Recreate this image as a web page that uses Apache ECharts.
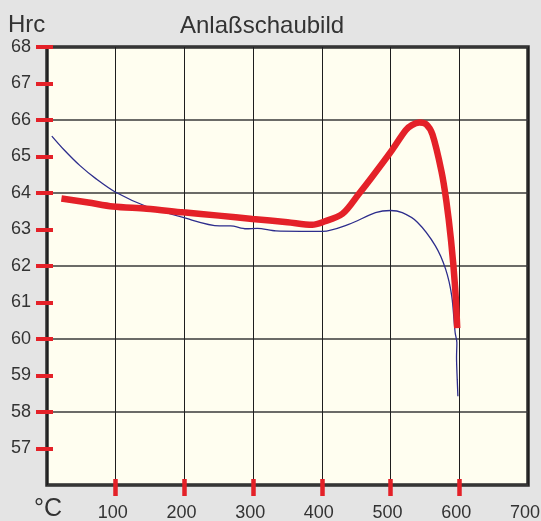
<!DOCTYPE html>
<html>
<head>
<meta charset="utf-8">
<script src="https://cdn.jsdelivr.net/npm/echarts@6/dist/echarts.min.js"></script>
<style>
  html, body { margin: 0; padding: 0; background: #e4e4e4; }
  #chart { width: 541px; height: 521px; }
</style>
</head>
<body>
<div id="chart"></div>
<script>
// Tempering diagram: hardness (HRC) vs. tempering temperature (°C)
const titleText = 'Anlaßschaubild';
const yUnit = 'Hrc';
const xUnit = '°C';

const xTickValues = [100, 200, 300, 400, 500, 600];
const xLabelValues = [100, 200, 300, 400, 500, 600, 700];
const yTickValues = [57, 58, 59, 60, 61, 62, 63, 64, 65, 66, 67, 68];

// Thick red curve: [temperature, hardness]
const redCurve = [
  [21, 63.85], [60, 63.74], [96, 63.63], [145, 63.57], [198, 63.47],
  [250, 63.38], [299, 63.29], [350, 63.2], [386, 63.13], [401, 63.2],
  [430, 63.43], [454, 63.98], [473, 64.44], [500, 65.12], [522, 65.72],
  [531, 65.86], [542, 65.93], [552, 65.88], [561, 65.6], [574, 64.6],
  [581, 63.8], [588, 62.7], [594, 61.4], [597, 60.3]
];

// Thin blue curve: [temperature, hardness]
const blueCurve = [
  [7, 65.56], [24, 65.2], [48, 64.75], [72, 64.38], [100, 64.02],
  [145, 63.63], [198, 63.33], [251, 63.1], [267, 63.1], [290, 63.02],
  [306, 63.03], [333, 62.96], [370, 62.95], [401, 62.95], [439, 63.14],
  [478, 63.46], [500, 63.52], [517, 63.46], [539, 63.2], [565, 62.56],
  [580, 61.92], [589, 61.18], [594, 60.17], [596.5, 59.9], [596, 59.5],
  [597, 58.9], [598, 58.43]
];

const chart = echarts.init(document.getElementById('chart'), null, { renderer: 'canvas' });
const font = 'Liberation Sans, Arial, sans-serif';
const red = '#e42128';
const dark = '#2a2a2a';

chart.setOption({
  backgroundColor: '#e4e4e4',
  animation: false,
  grid: {
    left: 47, right: 13, top: 47, bottom: 36,
    outerBoundsMode: 'none',
    containLabel: false,
    show: true,
    backgroundColor: '#fffef0',
    borderColor: dark,
    borderWidth: 3.5
  },
  xAxis: [
    {
      type: 'value', min: 0, max: 700, interval: 100,
      axisLine: { show: false },
      axisTick: { show: false },
      splitLine: { show: true, lineStyle: { color: '#1e1e1e', width: 1 } },
      axisLabel: {
        customValues: xLabelValues,
        color: '#333', fontFamily: font, fontSize: 18, margin: 19,
        padding: [0, 6, 0, 0]
      }
    },
    {
      type: 'value', min: 0, max: 700, position: 'bottom', offset: -6,
      axisLine: { show: false },
      splitLine: { show: false },
      axisLabel: { show: false },
      axisTick: {
        show: true, customValues: xTickValues, length: 17,
        lineStyle: { color: red, width: 4.5 }
      }
    }
  ],
  yAxis: [
    {
      type: 'value', min: 56, max: 68, interval: 1,
      axisLine: { show: false },
      axisTick: { show: false },
      splitLine: { show: false },
      axisLabel: {
        customValues: yTickValues,
        color: '#333', fontFamily: font, fontSize: 18, margin: 16,
        padding: [5, 0, 0, 0]
      }
    },
    {
      type: 'value', min: 56, max: 68, interval: 2,
      axisLine: { show: false },
      axisTick: { show: false },
      axisLabel: { show: false },
      splitLine: { show: true, lineStyle: { color: '#3a3a3a', width: 1.5 } }
    },
    {
      type: 'value', min: 56, max: 68, position: 'left', offset: -6,
      axisLine: { show: false },
      splitLine: { show: false },
      axisLabel: { show: false },
      axisTick: {
        show: true, customValues: yTickValues, length: 17,
        lineStyle: { color: red, width: 4 }
      }
    }
  ],
  series: [
    {
      type: 'line', data: blueCurve, smooth: 0.3, symbol: 'none',
      xAxisIndex: 0, yAxisIndex: 0,
      lineStyle: { color: '#2d2d8c', width: 1.3 },
      z: 3
    },
    {
      type: 'line', data: redCurve, smooth: 0.3, symbol: 'none',
      xAxisIndex: 0, yAxisIndex: 0,
      lineStyle: { color: red, width: 6.5, cap: 'butt' },
      z: 4
    }
  ],
  graphic: [
    {
      type: 'text', left: 180, top: 14,
      style: { text: titleText, font: '24px ' + font, fill: '#333' }
    },
    {
      type: 'text', left: 8, top: 13,
      style: { text: yUnit, font: '24px ' + font, fill: '#333' }
    },
    {
      type: 'text', left: 34, top: 497,
      style: { text: xUnit, font: '25px ' + font, fill: '#333' }
    }
  ]
});
</script>
</body>
</html>
